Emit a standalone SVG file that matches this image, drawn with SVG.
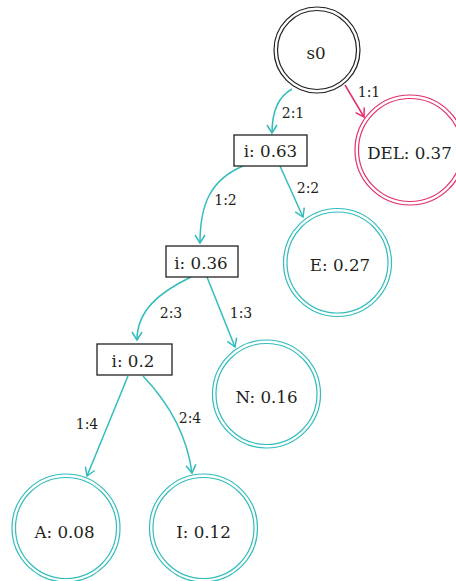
<svg xmlns="http://www.w3.org/2000/svg" width="456" height="581" viewBox="0 0 456 581" font-family="'DejaVu Serif', serif">
<style>
text{font-family:'DejaVu Serif',serif;fill:#231f20;text-anchor:middle}
.n{font-size:16.7px}
.e{font-size:14px}
.box{fill:#fff;stroke:#231f20;stroke-width:1.3}
.ring{fill:none;stroke-width:1.2}
.t{stroke:#33bcbc}
.r{stroke:#e2306a}
.k{stroke:#231f20}
.c{fill:none;stroke-width:1.5}
</style>
<defs>
<marker id="at" markerUnits="userSpaceOnUse" markerWidth="20" markerHeight="20" refX="0" refY="0" viewBox="-10 -10 20 20" orient="auto" overflow="visible">
<path d="M-8,-5 L0,0 L-8,5" fill="none" stroke="#33bcbc" stroke-width="1.5"/>
</marker>
<marker id="ar" markerUnits="userSpaceOnUse" markerWidth="20" markerHeight="20" refX="0" refY="0" viewBox="-10 -10 20 20" orient="auto" overflow="visible">
<path d="M-8,-5 L0,0 L-8,5" fill="none" stroke="#e2306a" stroke-width="1.5"/>
</marker>
</defs>
<g id="connectors">
<path class="c t" d="M292,89 Q272,100 272,133" marker-end="url(#at)"/>
<path class="c r" d="M345,85 L364,117" marker-end="url(#ar)"/>
<path class="c t" d="M243,166 C210,180 200,205 200,243" marker-end="url(#at)"/>
<path class="c t" d="M280,166 L303,217" marker-end="url(#at)"/>
<path class="c t" d="M191,277 C160,292 137,310 137,340" marker-end="url(#at)"/>
<path class="c t" d="M207,277 L235,347" marker-end="url(#at)"/>
<path class="c t" d="M128,376 L87,476" marker-end="url(#at)"/>
<path class="c t" d="M143,376 Q185,420 192,473" marker-end="url(#at)"/>
<text class="e" x="293" y="118">2:1</text>
<text class="e" x="369" y="97">1:1</text>
<text class="e" x="225.5" y="205">1:2</text>
<text class="e" x="308" y="193">2:2</text>
<text class="e" x="171" y="318">2:3</text>
<text class="e" x="241" y="318">1:3</text>
<text class="e" x="87" y="429">1:4</text>
<text class="e" x="190" y="423">2:4</text>
</g>
<g id="s0">
<circle class="ring k" cx="317" cy="50" r="43"/>
<circle class="ring k" cx="317" cy="50" r="39.5"/>
<text class="n" x="316" y="59">s0</text>
</g>
<g id="DEL">
<circle class="ring r" cx="410" cy="150" r="55"/>
<circle class="ring r" cx="410" cy="150" r="51.5"/>
<text class="n" x="409.5" y="159">DEL: 0.37</text>
</g>
<g id="i063">
<rect class="box" x="234" y="135" width="73" height="31"/>
<text class="n" x="270.5" y="157">i: 0.63</text>
</g>
<g id="E">
<circle class="ring t" cx="337.5" cy="262.5" r="54"/>
<circle class="ring t" cx="337.5" cy="262.5" r="50.5"/>
<text class="n" x="340" y="271">E: 0.27</text>
</g>
<g id="i036">
<rect class="box" x="166" y="246" width="72" height="31"/>
<text class="n" x="201" y="269">i: 0.36</text>
</g>
<g id="N">
<circle class="ring t" cx="266.5" cy="394" r="54"/>
<circle class="ring t" cx="266.5" cy="394" r="50.5"/>
<text class="n" x="266.5" y="403">N: 0.16</text>
</g>
<g id="i02">
<rect class="box" x="97" y="344" width="75" height="31"/>
<text class="n" x="133" y="367">i: 0.2</text>
</g>
<g id="A">
<circle class="ring t" cx="66" cy="528" r="54"/>
<circle class="ring t" cx="66" cy="528" r="50.5"/>
<text class="n" x="64.5" y="538">A: 0.08</text>
</g>
<g id="I">
<circle class="ring t" cx="203.5" cy="528" r="54"/>
<circle class="ring t" cx="203.5" cy="528" r="50.5"/>
<text class="n" x="203.5" y="538">I: 0.12</text>
</g>
</svg>
